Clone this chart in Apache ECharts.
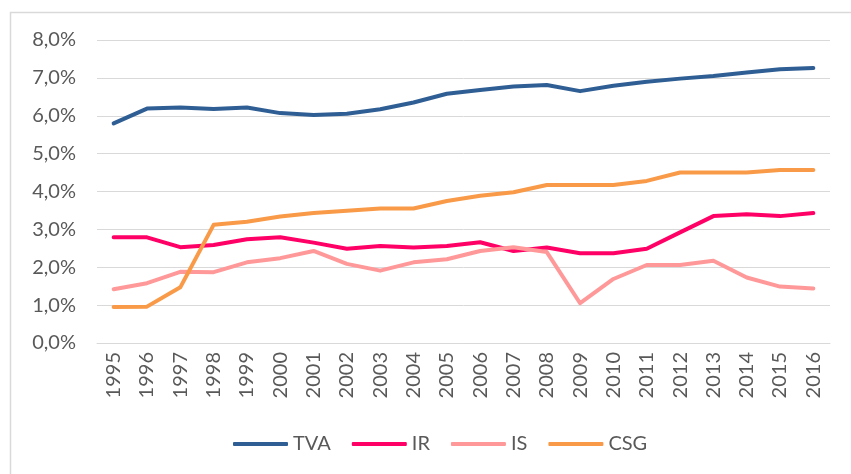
<!DOCTYPE html>
<html>
<head>
<meta charset="utf-8">
<script src="https://cdn.jsdelivr.net/npm/echarts@6/dist/echarts.min.js"></script>
<style>
html,body{margin:0;padding:0;background:#fff;}
#chart{width:851px;height:474px;}
</style>
</head>
<body>
<div id="chart"></div>
<script>
const years = ['1995','1996','1997','1998','1999','2000','2001','2002','2003','2004','2005','2006','2007','2008','2009','2010','2011','2012','2013','2014','2015','2016'];
const TVA = [5.80,6.19,6.22,6.18,6.22,6.07,6.02,6.05,6.17,6.35,6.58,6.68,6.77,6.81,6.65,6.79,6.90,6.98,7.05,7.14,7.23,7.26];
const IR  = [2.79,2.79,2.53,2.59,2.74,2.79,2.65,2.49,2.56,2.52,2.56,2.66,2.43,2.52,2.37,2.37,2.49,2.92,3.35,3.40,3.35,3.43];
const IS  = [1.42,1.58,1.88,1.87,2.13,2.24,2.43,2.09,1.91,2.13,2.21,2.43,2.53,2.40,1.05,1.69,2.06,2.06,2.17,1.73,1.49,1.44];
const CSG = [0.95,0.96,1.47,3.12,3.20,3.34,3.43,3.49,3.55,3.55,3.75,3.89,3.98,4.17,4.17,4.17,4.28,4.50,4.50,4.50,4.57,4.57];
const yTicks = {min:0, max:8, interval:1};

const font = 'Lato, "Open Sans", sans-serif';
function mk(name, data, color){
  return {name, type:'line', data, symbol:'none', smooth:false,
    lineStyle:{color, width:4, cap:'round', join:'round'}, itemStyle:{color}};
}
const chart = echarts.init(document.getElementById('chart'), null, {renderer:'canvas'});
chart.setOption({
  animation:false,
  backgroundColor:'#fff',
  graphic:[{type:'rect', shape:{x:10.5,y:12.5,width:900,height:600}, style:{fill:'none', stroke:'#d9d9d9', lineWidth:1.5}, silent:true}],
  grid:{left:97, right:21, top:40, bottom:131, containLabel:false},
  legend:{bottom:15, left:228, icon:'roundRect', itemWidth:55, itemHeight:4, itemGap:21,
    textStyle:{fontFamily:font, fontSize:20, color:'#595959'}, data:['TVA','IR','IS','CSG']},
  xAxis:{type:'category', data:years, boundaryGap:true,
    axisLine:{lineStyle:{color:'#d9d9d9', width:1}}, axisTick:{show:false},
    axisLabel:{rotate:90, margin:9, interval:0, fontFamily:font, fontSize:20, color:'#595959'}},
  yAxis:{type:'value', min:yTicks.min, max:yTicks.max, interval:yTicks.interval,
    axisLine:{show:false}, axisTick:{show:false},
    splitLine:{lineStyle:{color:'#d9d9d9', width:1}},
    axisLabel:{margin:21, fontFamily:font, fontSize:20, color:'#595959',
      formatter:v=>v.toFixed(1).replace('.',',')+'%'}},
  series:[mk('TVA',TVA,'#2f5e94'), mk('IR',IR,'#ff0066'), mk('IS',IS,'#ff9999'), mk('CSG',CSG,'#f99a48')]
});
</script>
</body>
</html>
